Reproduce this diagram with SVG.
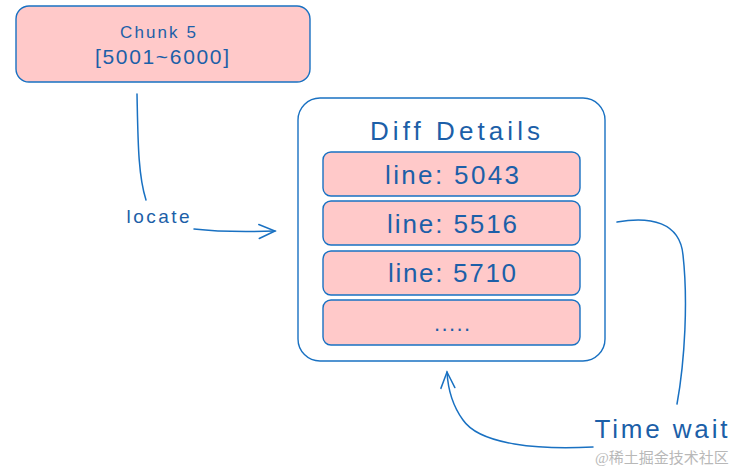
<svg xmlns="http://www.w3.org/2000/svg" width="740" height="469" viewBox="0 0 740 469">
<style>
.box{fill:#ffc9c9;stroke:#1971c2;stroke-width:1.4}
.outer{fill:#ffffff;stroke:#1971c2;stroke-width:1.4}
.t{font-family:"Liberation Sans","DejaVu Sans",sans-serif;fill:#1c5fa8;text-anchor:middle}
.c{fill:none;stroke:#1971c2;stroke-width:1.5;stroke-linecap:round}
</style>
<defs>
<marker id="ah" viewBox="0 0 20 20" refX="18" refY="10" markerWidth="20" markerHeight="20" markerUnits="userSpaceOnUse" orient="auto">
<path d="M2 3 L18 10 L2 17" fill="none" stroke="#1971c2" stroke-width="1.5" stroke-linecap="round"/>
</marker>
</defs>
<rect width="740" height="469" fill="#ffffff"/>
<g id="chunk5">
<rect class="box" x="16" y="6" width="294" height="76" rx="13"/>
<text class="t" x="158" y="38" font-size="17" textLength="76" lengthAdjust="spacing">Chunk 5</text>
<text class="t" x="162" y="64" font-size="21" textLength="134" lengthAdjust="spacing">[5001~6000]</text>
</g>
<g id="diff-details">
<rect class="outer" x="298" y="98" width="307" height="263" rx="22"/>
<text class="t" x="455" y="140" font-size="26" textLength="170" lengthAdjust="spacing">Diff Details</text>
</g>
<g id="line-5043">
<rect class="box" x="323" y="152" width="257" height="44" rx="8"/>
<text class="t" x="452" y="184" font-size="26" textLength="134" lengthAdjust="spacing">line: 5043</text>
</g>
<g id="line-5516">
<rect class="box" x="323" y="201" width="257" height="44" rx="8"/>
<text class="t" x="452" y="233" font-size="26" textLength="130" lengthAdjust="spacing">line: 5516</text>
</g>
<g id="line-5710">
<rect class="box" x="323" y="251" width="257" height="44" rx="8"/>
<text class="t" x="452" y="282" font-size="26" textLength="128" lengthAdjust="spacing">line: 5710</text>
</g>
<g id="more">
<rect class="box" x="323" y="300" width="257" height="45" rx="8"/>
<text class="t" x="452" y="331" font-size="22" textLength="36" lengthAdjust="spacing">.....</text>
</g>
<g id="connectors">
<path class="c" d="M137 94 C138 140 138 175 146 200"/>
<path class="c" d="M194 229 C220 232 245 232 275 231" marker-end="url(#ah)"/>
<path class="c" d="M617 222 C650 216 680 222 683 255 C688 300 685 360 677 404"/>
<path class="c" d="M593 447 C540 450 480 445 463 420 C452 405 448 390 447 372" marker-end="url(#ah)"/>
</g>
<g id="labels">
<text class="t" x="158" y="223" font-size="19" textLength="63" lengthAdjust="spacing">locate</text>
<text class="t" x="661" y="438" font-size="26" textLength="133" lengthAdjust="spacing">Time wait</text>
<text x="595" y="463" font-size="15" fill="#b8b8b8" font-family="Liberation Serif,'Noto Sans CJK SC',serif">@稀土掘金技术社区</text>
</g>
</svg>
